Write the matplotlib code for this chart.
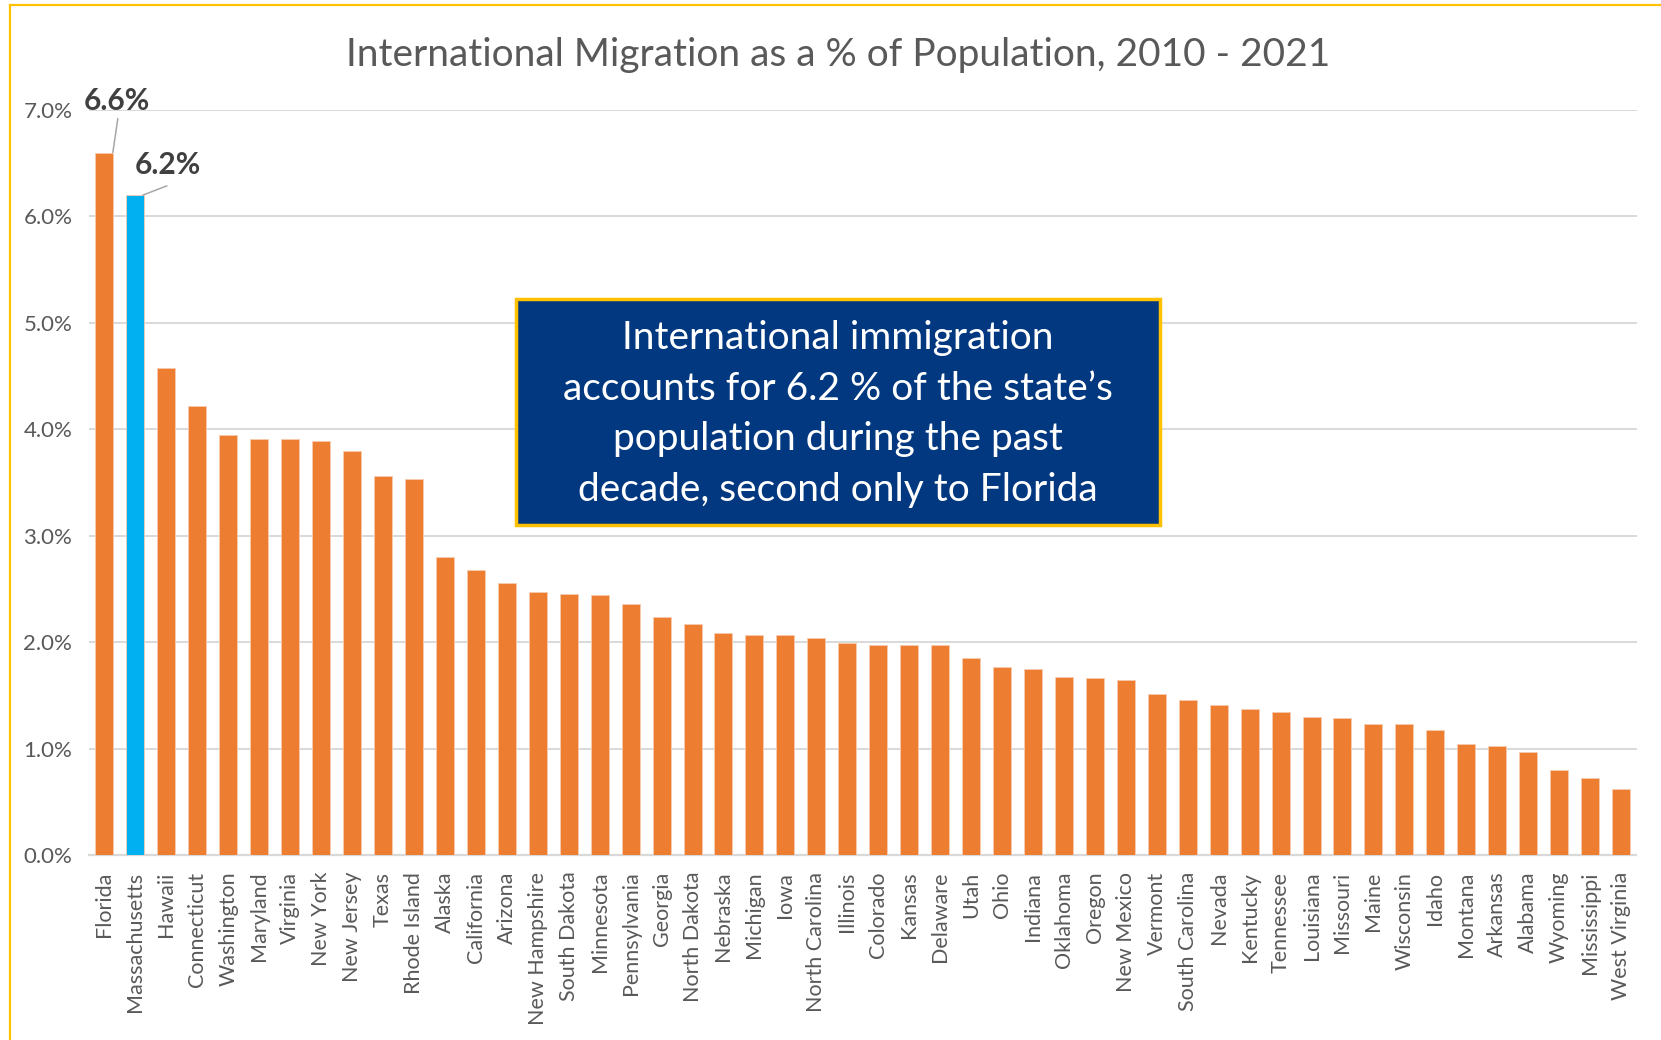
import numpy as np
import matplotlib
matplotlib.use("Agg")
import matplotlib.pyplot as plt
from matplotlib.patches import Rectangle
from matplotlib.lines import Line2D
from matplotlib.ticker import FuncFormatter

plt.rcParams['font.family'] = ['Lato', 'DejaVu Sans']

# international migration 2010-2021, percent of population
states = ["Florida", "Massachusetts", "Hawaii", "Connecticut", "Washington",
          "Maryland", "Virginia", "New York", "New Jersey", "Texas",
          "Rhode Island", "Alaska", "California", "Arizona", "New Hampshire",
          "South Dakota", "Minnesota", "Pennsylvania", "Georgia", "North Dakota",
          "Nebraska", "Michigan", "Iowa", "North Carolina", "Illinois",
          "Colorado", "Kansas", "Delaware", "Utah", "Ohio",
          "Indiana", "Oklahoma", "Oregon", "New Mexico", "Vermont",
          "South Carolina", "Nevada", "Kentucky", "Tennessee", "Louisiana",
          "Missouri", "Maine", "Wisconsin", "Idaho", "Montana",
          "Arkansas", "Alabama", "Wyoming", "Mississippi", "West Virginia"]
pct = [6.6, 6.2, 4.58, 4.22, 3.95, 3.91, 3.91, 3.89, 3.80, 3.56,
       3.53, 2.80, 2.68, 2.56, 2.47, 2.45, 2.44, 2.36, 2.24, 2.17,
       2.09, 2.07, 2.07, 2.04, 1.99, 1.97, 1.97, 1.97, 1.85, 1.77,
       1.75, 1.67, 1.66, 1.64, 1.51, 1.46, 1.41, 1.37, 1.34, 1.30,
       1.29, 1.23, 1.23, 1.17, 1.04, 1.02, 0.97, 0.80, 0.72, 0.62]
highlight = "Massachusetts"
labelled = ["Florida", "Massachusetts"]

orange = "#ED7D31"
blue = "#00B0F0"
grey = "#595959"

fig = plt.figure(figsize=(16.61, 10.40), dpi=100)
ax = fig.add_axes([89/1661, 1-855/1040, (1636.5-89)/1661, (855-110)/1040])

x = np.arange(len(states))
cols = [blue if s == highlight else orange for s in states]
ax.bar(x, pct, width=0.58, color=cols, edgecolor="#F8CBAD", linewidth=0.6, zorder=3)

ax.set_xlim(-0.5, len(states)-0.5)
ax.set_ylim(0, 7)
ax.set_yticks(np.arange(0, 7.5, 1.0))
ax.yaxis.set_major_formatter(FuncFormatter(lambda v, p: "%.1f%%" % v))
ax.set_xticks(x)
ax.set_xticklabels(states, rotation=90, fontsize=15.5, color=grey)
ax.tick_params(axis="y", length=0, pad=12, labelsize=16, labelcolor=grey)
ax.tick_params(axis="x", length=0, pad=12)
ax.grid(axis="y", color="#D9D9D9", lw=1.4, zorder=0)
for s in ["top", "right", "left"]:
    ax.spines[s].set_visible(False)
ax.spines["bottom"].set_color("#D9D9D9")
ax.spines["bottom"].set_linewidth(1.6)

# value callouts with leader lines
offsets = {"Florida": ((0.27, 0), (3.6, 24.5), (3.2, 37)),
           "Massachusetts": ((0.24, 0), (17.3, 6.7), (17.8, 21.5))}
for s in labelled:
    i = states.index(s)
    (dx, dy), line_end, text_off = offsets[s]
    ax.annotate("", xy=(i+dx, pct[i]+dy), xytext=line_end, textcoords="offset points",
                arrowprops=dict(arrowstyle="-", color="#A6A6A6", lw=1.1, shrinkA=0, shrinkB=0))
    ax.annotate("%.1f%%" % pct[i], xy=(i+dx, pct[i]+dy), xytext=text_off,
                textcoords="offset points", ha="center", va="center",
                fontsize=21.5, fontweight="bold", color="#404040")

fig.text(838/1661, 1-55/1040, "International Migration as a % of Population, 2010 - 2021",
         ha="center", va="center", fontsize=28, color=grey)

# callout box
box = Rectangle((516/1661, 1-525/1040), 644/1661, 226/1040, transform=fig.transFigure,
                facecolor="#02387F", edgecolor="#FFC000", lw=2.5, zorder=5)
fig.add_artist(box)
fig.text(838/1661, 1-414/1040,
         "International immigration\naccounts for 6.2 % of the state\u2019s\npopulation during the past\ndecade, second only to Florida",
         ha="center", va="center", fontsize=28, color="white", linespacing=1.5, zorder=6)

# outer frame
fig.add_artist(Line2D([10/1661, 1], [1-5/1040, 1-5/1040], color="#FFC000", lw=1.6))
fig.add_artist(Line2D([10/1661, 10/1661], [0, 1-5/1040], color="#FFC000", lw=1.6))

fig.savefig("out.png", dpi=100)
